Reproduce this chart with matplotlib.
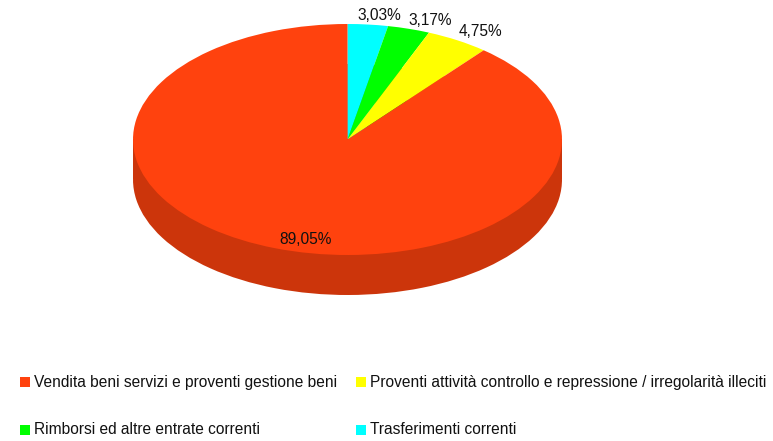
import matplotlib
matplotlib.use("Agg")
import matplotlib.pyplot as plt
from matplotlib.patches import Rectangle

plt.rcParams['font.family'] = ['Liberation Sans', 'DejaVu Sans']

categories = ["Trasferimenti correnti", "Rimborsi ed altre entrate correnti",
              "Proventi attività controllo e repressione / irregolarità illeciti",
              "Vendita beni servizi e proventi gestione beni"]
values = [3.03, 3.17, 4.75, 89.05]
labels = ["3,03%", "3,17%", "4,75%", "89,05%"]
colors = ["#00FFFF", "#00FF00", "#FFFF00", "#FF420E"]
side_colors = ["#00CCCC", "#00CC00", "#CCCC00", "#CC350B"]
legend_order = [3, 2, 1, 0]

W, H = 773, 441
CX, CY, RX, RY, DEPTH = 347.5, 139.5, 214.5, 115.5, 40

fig = plt.figure(figsize=(W / 100, H / 100), dpi=100)
ax = fig.add_axes([0, 0, 1, 1])

# Data units: pie radius = 1 on both axes, anisotropic scale gives the tilt.
d = DEPTH / RY
ax.pie(values, colors=side_colors, startangle=90, counterclock=False,
       center=(0, -d), radius=1, wedgeprops=dict(linewidth=0))
ax.add_patch(Rectangle((-1, -d), 2, d, facecolor=side_colors[3], linewidth=0))
ax.pie(values, colors=colors, startangle=90, counterclock=False,
       center=(0, 0), radius=1, wedgeprops=dict(linewidth=0))
ax.set_aspect('auto')
ax.set_xlim(-CX / RX, (W - CX) / RX)
ax.set_ylim(-(H - CY) / RY, CY / RY)
ax.set_axis_off()

def fx(x): return x / W
def fy(y): return 1 - y / H

label_pos = [(379.5, 16), (430, 20.5), (480, 32), (306, 239.5)]
for t, (x, y) in zip(labels, label_pos):
    fig.text(fx(x), fy(y), t, ha='center', va='center', fontsize=11.2, color='#111111')

leg_pos = [(20, 382), (356, 382), (20, 429.5), (356, 429.5)]
for i, (x, y) in zip(legend_order, leg_pos):
    fig.patches.append(Rectangle((fx(x), fy(y + 5)), 10 / W, 10 / H, transform=fig.transFigure,
                                 facecolor=colors[i], linewidth=0, figure=fig))
    fig.text(fx(x + 14), fy(y), categories[i], ha='left', va='center', fontsize=11.2, color='#111111')

fig.savefig("out.png", dpi=100)
